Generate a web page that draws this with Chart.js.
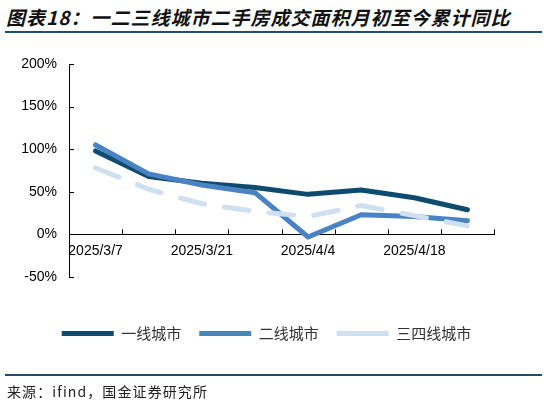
<!DOCTYPE html>
<html>
<head>
<meta charset="utf-8">
<script src="https://cdn.jsdelivr.net/npm/chart.js@4"></script>
<style>
  body { margin: 0; background: #fff; }
  #wrap { position: relative; width: 547px; height: 403px; }
  #title {
    position: absolute; left: 6px; top: 3px;
    font: italic bold 19px "Noto Sans CJK SC", sans-serif;
    letter-spacing: 1px; color: #111; white-space: nowrap;
  }
  .rule { position: absolute; left: 5px; width: 537px; height: 2px; background: #1d4e72; }
  #source {
    position: absolute; left: 7px; top: 381px;
    font: 14px "Noto Sans CJK SC", sans-serif;
    letter-spacing: 1.1px; color: #222; white-space: nowrap;
  }
  canvas { position: absolute; left: 0; top: 0; }
</style>
</head>
<body>
<div id="wrap">
  <div id="title">图表18：一二三线城市二手房成交面积月初至今累计同比</div>
  <div class="rule" style="top:31px"></div>
  <canvas id="chart" width="547" height="403"></canvas>
  <div class="rule" style="top:374px"></div>
  <div id="source">来源：ifind，国金证券研究所</div>
</div>
<script>
// weekly points, a label on every second week
const dates = ['2025/3/7', '2025/3/14', '2025/3/21', '2025/3/28', '2025/4/4', '2025/4/11', '2025/4/18', '2025/4/25'];
const tier1 = [98, 68, 60, 55, 47, 52, 43, 29];
const tier2 = [105, 71, 58, 49, -3, 23, 21, 16];
const tier3 = [78, 53, 36, 27, 21, 34, 22, 10];
const yTicks = [-50, 0, 50, 100, 150, 200];

// short tick marks pointing into the plot, as in the source chart
const innerTicks = {
    id: 'innerTicks',
    afterDatasetsDraw(chart) {
        const ctx = chart.ctx;
        const x = chart.scales.x;
        const y = chart.scales.y;
        const area = chart.chartArea;
        const zeroY = y.getPixelForValue(0);
        ctx.save();
        ctx.strokeStyle = '#000';
        ctx.lineWidth = 1;
        ctx.beginPath();
        yTicks.forEach(v => {
            const py = Math.round(y.getPixelForValue(v)) + 0.5;
            ctx.moveTo(area.left, py);
            ctx.lineTo(area.left + 5, py);
        });
        for (let i = 0; i <= dates.length; i++) {
            const px = Math.round(x.getPixelForValue(i - 0.5)) + 0.5;
            ctx.moveTo(px, zeroY);
            ctx.lineTo(px, zeroY - 5);
        }
        ctx.stroke();
        ctx.restore();
    }
};

const ctx = document.getElementById('chart').getContext('2d');
const chart = new Chart(ctx, {
    type: 'line',
    data: {
        labels: dates,
        datasets: [{
            label: '一线城市',
            data: tier1,
            borderColor: '#0d4c6f',
            backgroundColor: '#0d4c6f',
            borderWidth: 5,
            order: 3
        }, {
            label: '二线城市',
            data: tier2,
            borderColor: '#4a83c3',
            backgroundColor: '#4a83c3',
            borderWidth: 5,
            order: 2
        }, {
            label: '三四线城市',
            data: tier3,
            borderColor: '#cfe0f1',
            backgroundColor: '#cfe0f1',
            borderWidth: 5,
            borderDash: [25, 20],
            order: 1
        }]
    },
    options: {
        responsive: false,
        animation: false,
        elements: {
            line: { tension: 0, borderCapStyle: 'round', borderJoinStyle: 'round' },
            point: { radius: 0, hoverRadius: 0 }
        },
        layout: { padding: { left: 0, right: 14, top: 64, bottom: 52 } },
        plugins: {
            tooltip: { enabled: false },
            legend: {
                position: 'bottom',
                labels: {
                    usePointStyle: true,
                    pointStyle: 'line',
                    pointStyleWidth: 52,
                    padding: 18,
                    color: '#333',
                    font: { family: '"Noto Sans CJK SC"', size: 15 },
                    sort: (a, b) => a.datasetIndex - b.datasetIndex
                }
            }
        },
        scales: {
            x: {
                type: 'category',
                position: { y: 0 },
                offset: true,
                grid: { display: false, offset: true, drawTicks: false },
                border: { display: true, color: '#000', width: 1 },
                ticks: {
                    autoSkip: false,
                    maxRotation: 0,
                    padding: 8,
                    color: '#000',
                    font: { family: '"Liberation Sans"', size: 14 },
                    callback: (v, i) => (i % 2 === 0 ? dates[i] : '')
                }
            },
            // empty axis that only keeps a gap between the plot and the legend
            xGap: {
                type: 'linear',
                axis: 'x',
                position: 'bottom',
                display: true,
                grid: { display: false, drawTicks: false },
                border: { display: false },
                ticks: { display: false },
                afterFit: s => { s.height = 31; }
            },
            y: {
                min: -50,
                max: 200,
                grid: { display: false, drawTicks: false },
                border: { display: true, color: '#000', width: 1 },
                ticks: {
                    stepSize: 50,
                    padding: 12,
                    color: '#000',
                    font: { family: '"Liberation Sans"', size: 14 },
                    callback: v => v + '%'
                },
                afterFit: s => { s.width = 69; }
            },
            yRight: {
                position: 'right',
                display: true,
                grid: { display: false, drawTicks: false },
                border: { display: false },
                ticks: { display: false },
                afterFit: s => { s.width = 39; }
            }
        }
    },
    plugins: [innerTicks]
});
</script>
</body>
</html>
